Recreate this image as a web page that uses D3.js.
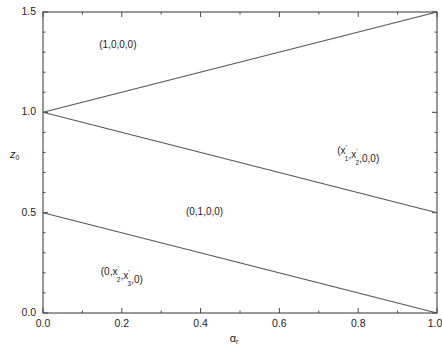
<!DOCTYPE html>
<html lang="en">
<head>
    <meta charset="UTF-8">
    <title>Phase diagram</title>
    <script src="https://cdn.jsdelivr.net/npm/d3@7"></script>
    <style>
        body { margin: 0; background: #fff; }
        text { font-family: "Liberation Sans", Arial, sans-serif; fill: #222; }
    </style>
</head>
<body>
    <div id="chart-space"></div>

    <script>
        // boundary lines, value of z0 at alpha = 0 and alpha = 1
        var alphaEnds = [0, 1];
        var upperLine = [1.0, 1.5];
        var middleLine = [1.0, 0.5];
        var lowerLine = [0.5, 0.0];

        var xTicks = [0, 0.2, 0.4, 0.6, 0.8, 1.0];
        var yTicks = [0, 0.5, 1.0, 1.5];

        // region labels: [alpha, z0]
        var regionLabels = [
            {parts: [["(1,0,0,0)"]], x: 0.19, y: 1.32},
            {parts: [["(x"], ["'", "sup"], ["1", "sub"], [",x"], ["'", "sup"], ["2", "sub"], [",0,0)"]], x: 0.80, y: 0.79},
            {parts: [["(0,1,0,0)"]], x: 0.41, y: 0.49},
            {parts: [["(0,x"], ["'", "sup"], ["2", "sub"], [",x"], ["'", "sup"], ["3", "sub"], [",0)"]], x: 0.20, y: 0.19}
        ];

        var width = 442;
        var height = 344;
        var margin = {top: 12, right: 5, bottom: 31, left: 43};
        var chartWidth = width - margin.left - margin.right;
        var chartHeight = height - margin.top - margin.bottom;

        var svg = d3.select("#chart-space")
            .append("svg")
            .attr("width", width)
            .attr("height", height);

        var g = svg.append("g")
            .attr("transform", "translate(" + margin.left + "," + margin.top + ")");

        var xScale = d3.scaleLinear().domain([0, 1]).range([0, chartWidth]);
        var yScale = d3.scaleLinear().domain([0, 1.5]).range([chartHeight, 0]);

        // frame
        g.append("rect")
            .attr("width", chartWidth)
            .attr("height", chartHeight)
            .attr("fill", "none")
            .attr("stroke", "#333")
            .attr("stroke-width", 1);

        // minor + major ticks, pointing inward on all four sides
        var xMinor = d3.range(0, 1.0001, 0.1);
        var yMinor = d3.range(0, 1.5001, 0.1);

        function tickLen(v, step) {
            return Math.abs(v / step - Math.round(v / step)) < 1e-6 ? 5 : 2.5;
        }

        xMinor.forEach(function(v) {
            var L = tickLen(v, 0.2);
            g.append("line").attr("x1", xScale(v)).attr("x2", xScale(v))
                .attr("y1", chartHeight).attr("y2", chartHeight - L)
                .attr("stroke", "#444");
            g.append("line").attr("x1", xScale(v)).attr("x2", xScale(v))
                .attr("y1", 0).attr("y2", L)
                .attr("stroke", "#444");
        });
        yMinor.forEach(function(v) {
            var L = tickLen(v, 0.5);
            g.append("line").attr("y1", yScale(v)).attr("y2", yScale(v))
                .attr("x1", 0).attr("x2", L)
                .attr("stroke", "#444");
            g.append("line").attr("y1", yScale(v)).attr("y2", yScale(v))
                .attr("x1", chartWidth).attr("x2", chartWidth - L)
                .attr("stroke", "#444");
        });

        // tick labels
        g.selectAll(".xlab")
            .data(xTicks)
            .join("text")
            .attr("class", "xlab")
            .attr("x", function(d) { return d === 1 ? xScale(d) - 2 : xScale(d); })
            .attr("y", chartHeight + 14)
            .attr("text-anchor", "middle")
            .style("font-size", "10.5px")
            .text(function(d) { return d.toFixed(1); });

        g.selectAll(".ylab")
            .data(yTicks)
            .join("text")
            .attr("class", "ylab")
            .attr("x", -7)
            .attr("y", function(d) { return yScale(d) + 3; })
            .attr("text-anchor", "end")
            .style("font-size", "10.5px")
            .text(function(d) { return d.toFixed(1); });

        // axis titles
        var xt = g.append("text")
            .attr("x", xScale(0.485))
            .attr("y", chartHeight + 29)
            .attr("text-anchor", "middle")
            .style("font-size", "11px")
            .text("α");
        xt.append("tspan").attr("dy", 2).style("font-size", "7px").text("r");

        var yt = g.append("text")
            .attr("x", -33)
            .attr("y", yScale(0.77))
            .style("font-size", "11px")
            .style("font-style", "italic")
            .text("z");
        yt.append("tspan").attr("dy", 2).style("font-size", "7px").style("font-style", "normal").text("0");

        // boundary lines
        var line = d3.line()
            .x(function(d) { return xScale(d[0]); })
            .y(function(d) { return yScale(d[1]); });

        [upperLine, middleLine, lowerLine].forEach(function(s) {
            g.append("path")
                .datum(alphaEnds.map(function(a, i) { return [a, s[i]]; }))
                .attr("d", line)
                .attr("fill", "none")
                .attr("stroke", "#555")
                .attr("stroke-width", 1.1);
        });

        // region labels with primes and subscripts
        regionLabels.forEach(function(lab) {
            var t = g.append("text")
                .attr("x", xScale(lab.x))
                .attr("y", yScale(lab.y))
                .attr("text-anchor", "middle")
                .style("font-size", "10px");
            var shift = 0;
            lab.parts.forEach(function(p) {
                var ts = t.append("tspan").text(p[0]);
                if (p[1] === "sup") {
                    ts.attr("dy", -4 - shift).style("font-size", "7px");
                    shift = -4;
                } else if (p[1] === "sub") {
                    ts.attr("dx", -2).attr("dy", 7 - shift).style("font-size", "6.5px");
                    shift = 3;
                } else {
                    ts.attr("dy", -shift);
                    shift = 0;
                }
            });
        });
    </script>
</body>
</html>
